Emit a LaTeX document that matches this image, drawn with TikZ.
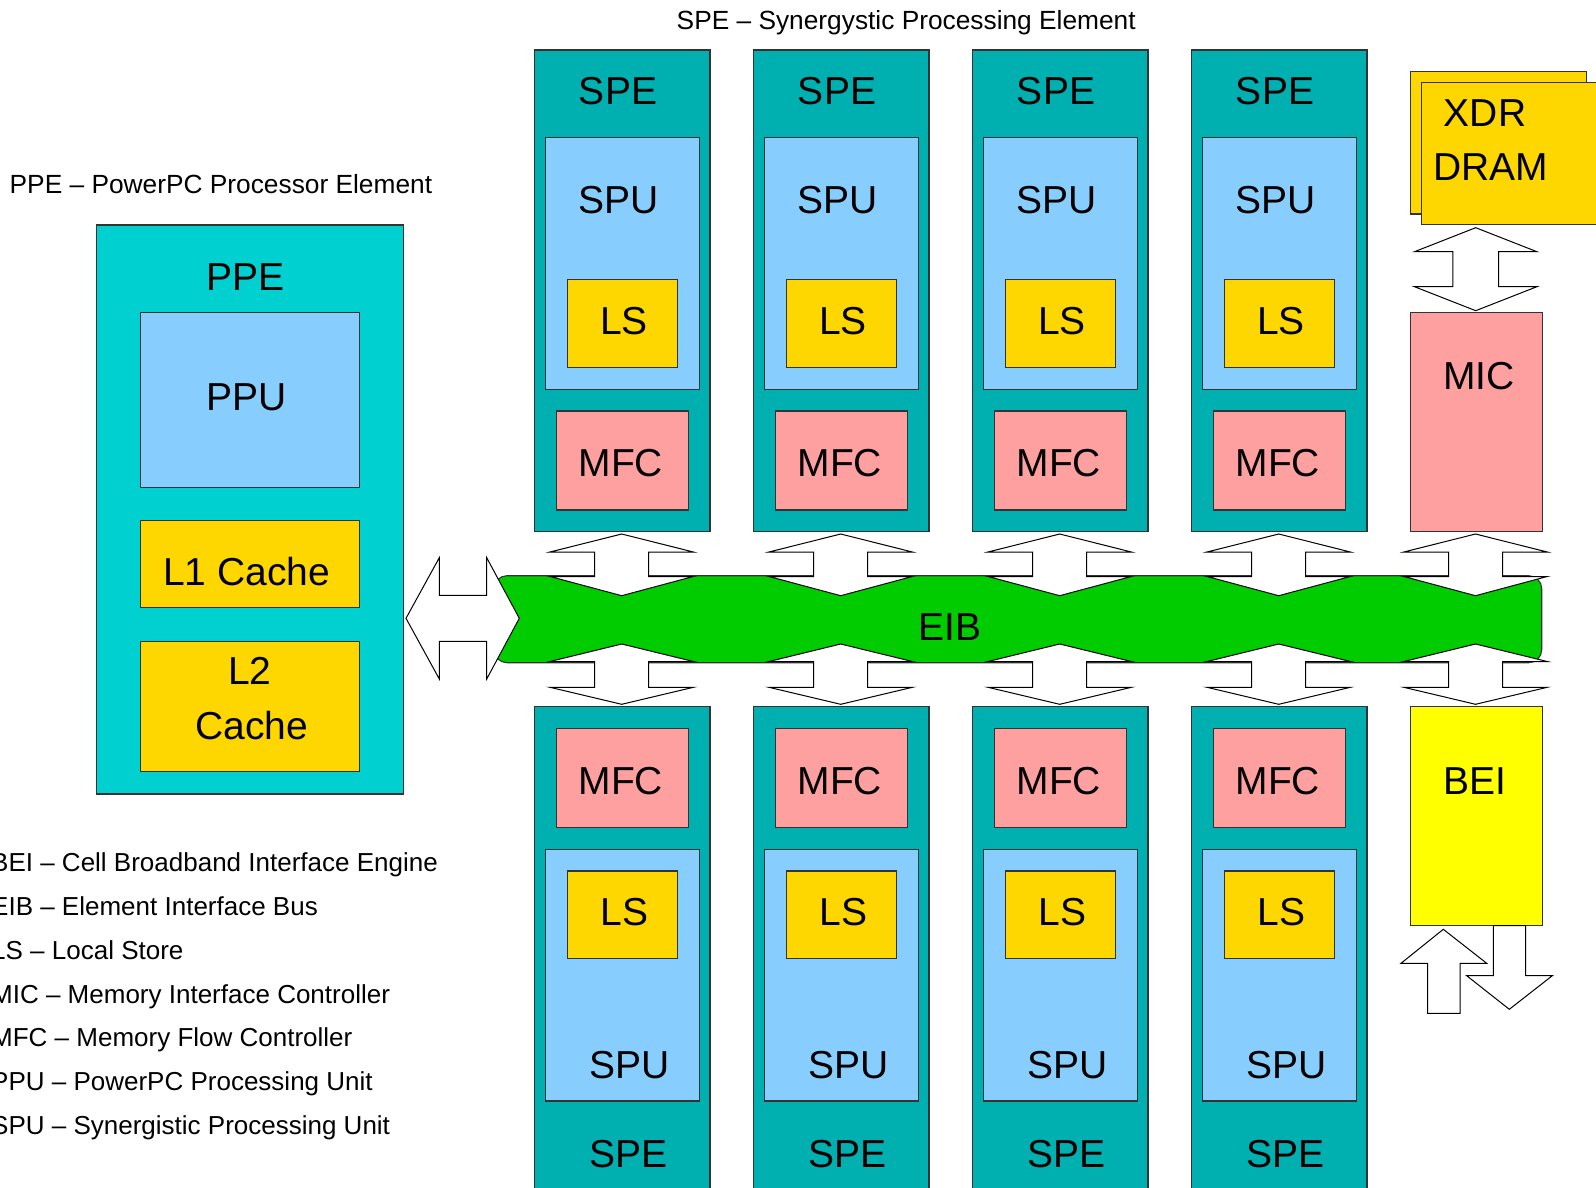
\documentclass[tikz,border=0pt]{standalone}
\usepackage{fontspec}
\setmainfont{Liberation Sans}
\usetikzlibrary{fit}
\definecolor{speteal}{RGB}{0,176,176}
\definecolor{ppecyan}{RGB}{0,208,208}
\definecolor{spublue}{RGB}{135,206,255}
\definecolor{lsgold}{RGB}{255,215,0}
\definecolor{mfcpink}{RGB}{255,160,160}
\definecolor{beiyellow}{RGB}{255,255,0}
\definecolor{eibgreen}{RGB}{0,204,0}
\tikzset{
  blk/.style={draw=black!80, line width=1.1pt, inner sep=0pt, outer sep=0pt, rectangle},
  big/.style={font=\fontsize{39}{46}\selectfont, inner sep=0pt, text=black},
  small/.style={font=\fontsize{26.3}{31}\selectfont, inner sep=0pt, text=black},
  legend/.style={font=\fontsize{26}{31}\selectfont, inner sep=0pt, text=black, anchor=base west},
  barrow/.style={draw=black, line width=1pt, fill=white, line join=miter},
}
% vertical double block arrow: cx, tip1, wing1, wing2, tip2, half wing, half shaft
\newcommand\vdarrow[7]{%
  \draw[barrow] (#1,#2) -- (#1+#6,#3) -- (#1+#7,#3) -- (#1+#7,#4) -- (#1+#6,#4)
    -- (#1,#5) -- (#1-#6,#4) -- (#1-#7,#4) -- (#1-#7,#3) -- (#1-#6,#3) -- cycle;}
\begin{document}
\begin{tikzpicture}[x=1pt,y=-1pt]
\useasboundingbox (0,0) rectangle (1596,1188);

% ---------- PPE ----------
\node[blk, fill=ppecyan, fit={(96.7,225) (403.3,794)}] (ppe) {};
\node[blk, fill=spublue, fit={(140.6,312.7) (359.3,487.5)}] (ppu) {};
\node[blk, fill=lsgold, fit={(140.6,520.7) (359.3,607.8)}] (l1) {};
\node[blk, fill=lsgold, fit={(140.6,641.3) (359.3,771.8)}] (l2) {};
\node[big] (ppet) at (245.8,277.5) {PPE};
\node[big] (pput) at (246.7,397.5) {PPU};
\node[big] (l1t) at (246.7,572) {L1 Cache};
\node[big] (l2ta) at (250,671) {L2};
\node[big] (l2tb) at (252,726) {Cache};

% ---------- SPE columns ----------
\foreach \i/\L in {1/534.3,2/753.3,3/972.3,4/1191.3}{
  % top
  \node[blk, fill=speteal, fit={(\L,50) (\L+175.7,531.7)}] (speT\i) {};
  \node[blk, fill=spublue, fit={(\L+11.4,137.7) (\L+165,389.3)}] (spuT\i) {};
  \node[blk, fill=lsgold, fit={(\L+33,279.3) (\L+143,367.3)}] (lsT\i) {};
  \node[blk, fill=mfcpink, fit={(\L+22,411) (\L+154,510)}] (mfcT\i) {};
  \node[big] (speTt\i) at (\L+83.7,91.2) {SPE};
  \node[big] (spuTt\i) at (\L+84,200) {SPU};
  \node[big] (lsTt\i) at (\L+89.7,321) {LS};
  \node[big] (mfcTt\i) at (\L+86.5,463.5) {MFC};
  % bottom
  \node[blk, fill=speteal, fit={(\L,706.7) (\L+175.7,1200)}] (speB\i) {};
  \node[blk, fill=mfcpink, fit={(\L+22,728.7) (\L+154,827.3)}] (mfcB\i) {};
  \node[blk, fill=spublue, fit={(\L+11.4,849.3) (\L+165,1101)}] (spuB\i) {};
  \node[blk, fill=lsgold, fit={(\L+33,871) (\L+143,958.7)}] (lsB\i) {};
  \node[big] (mfcBt\i) at (\L+86.5,781.3) {MFC};
  \node[big] (lsBt\i) at (\L+89.9,912) {LS};
  \node[big] (spuBt\i) at (\L+95.4,1065) {SPU};
  \node[big] (speBt\i) at (\L+94.5,1153.8) {SPE};
}

% ---------- XDR DRAM, MIC, BEI ----------
\node[blk, fill=lsgold, fit={(1410.7,71.7) (1586.7,214)}] (xdrback) {};
\node[blk, fill=lsgold, fit={(1421.7,82.7) (1610,224.7)}] (xdr) {};
\node[big] (xdrt1) at (1485,112.8) {XDR};
\node[big] (xdrt2) at (1491,166.7) {DRAM};
\node[blk, fill=mfcpink, fit={(1410.7,312.7) (1542.3,531.7)}] (mic) {};
\node[big] (mict) at (1479,375.6) {MIC};
\node[blk, fill=beiyellow, fit={(1410.7,706.7) (1542.3,925.7)}] (bei) {};
\node[big] (beit) at (1475,780.7) {BEI};

% ---------- EIB ----------
\node[draw=black!80, line width=1.1pt, fill=eibgreen, rounded corners=13pt,
      inner sep=0pt, fit={(494,575.7) (1541.7,662.7)}] (eib) {};

% arrows to/from the EIB
\foreach \c in {621.7,840.7,1059.7,1278.7,1475.5}{
  \vdarrow{\c}{534}{552}{576.5}{595.7}{71.7}{27}
  \vdarrow{\c}{644}{661.5}{687.3}{704.3}{71.7}{27}
}
% PPE <-> EIB
\draw[barrow] (406,618.3) -- (439.3,557.7) -- (439.3,595.3) -- (486.7,595.3)
  -- (486.7,557.7) -- (519.3,618.3) -- (486.7,679) -- (486.7,641.3)
  -- (439.3,641.3) -- (439.3,679) -- cycle;
% XDR <-> MIC
\vdarrow{1475.7}{227.7}{251.7}{286.7}{310.7}{61.2}{22.8}
% BEI in/out
\draw[barrow] (1443.3,929.3) -- (1486.7,963.3) -- (1460,963.3) -- (1460,1013.3)
  -- (1427.7,1013.3) -- (1427.7,963.3) -- (1401,963.3) -- cycle;
\draw[barrow] (1493.3,925.7) -- (1525.7,925.7) -- (1525.7,975.7) -- (1552.3,975.7)
  -- (1509.3,1009.3) -- (1466.7,975.7) -- (1493.3,975.7) -- cycle;

\node[big] (eibt) at (950,627.5) {EIB};

% ---------- captions & legend ----------
\node[small, anchor=base west] (specap) at (676.5,29.5) {SPE – Synergystic Processing Element};
\node[small, anchor=base west] (ppecap) at (9.5,193.4) {PPE – PowerPC Processor Element};
\node[legend] (lg1) at (-9,871.7) {BEI – Cell Broadband Interface Engine};
\node[legend] (lg2) at (-9,915.5) {EIB – Element Interface Bus};
\node[legend] (lg3) at (-9,959.3) {LS – Local Store};
\node[legend] (lg4) at (-9,1003.1) {MIC – Memory Interface Controller};
\node[legend] (lg5) at (-9,1046.9) {MFC – Memory Flow Controller};
\node[legend] (lg6) at (-9,1090.7) {PPU – PowerPC Processing Unit};
\node[legend] (lg7) at (-9,1134.5) {SPU – Synergistic Processing Unit};
\end{tikzpicture}
\end{document}
